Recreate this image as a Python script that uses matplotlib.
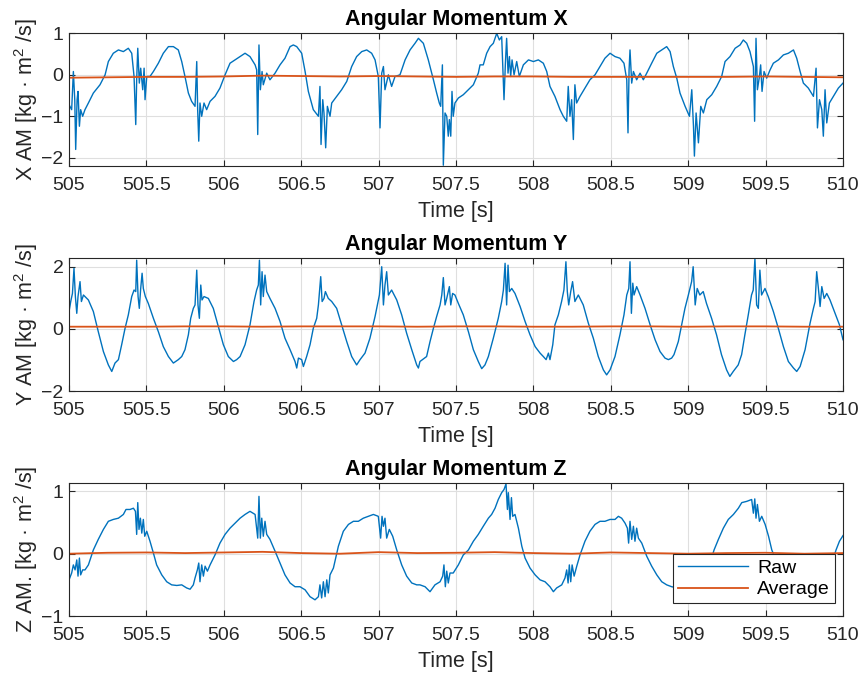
import numpy as np
import matplotlib
matplotlib.use("Agg")
import matplotlib.pyplot as plt

plt.rcParams['font.family'] = ['Liberation Sans', 'DejaVu Sans']
plt.rcParams['mathtext.default'] = 'regular'

# ---- raw angular momentum X ----
x_t = [505.000, 505.017, 505.028, 505.037, 505.043, 505.052, 505.058, 505.067, 505.075, 505.088,
       505.103, 505.125, 505.157, 505.200, 505.233, 505.254, 505.286, 505.319, 505.351, 505.383,
       505.405, 505.420, 505.431, 505.437, 505.444, 505.454, 505.463, 505.476, 505.485, 505.491,
       505.502, 505.523, 505.545, 505.577, 505.609, 505.642, 505.674, 505.706, 505.728, 505.749,
       505.771, 505.792, 505.814, 505.825, 505.831, 505.838, 505.846, 505.857, 505.872, 505.889,
       505.911, 505.943, 505.975, 506.008, 506.040, 506.072, 506.105, 506.137, 506.169, 506.202,
       506.212, 506.219, 506.227, 506.236, 506.247, 506.255, 506.277, 506.298, 506.331, 506.363,
       506.395, 506.428, 506.449, 506.471, 506.503, 506.525, 506.546, 506.578, 506.611, 506.621,
       506.628, 506.639, 506.647, 506.658, 506.669, 506.686, 506.697, 506.729, 506.761, 506.794,
       506.826, 506.858, 506.891, 506.923, 506.955, 506.977, 506.998, 507.009, 507.020, 507.031,
       507.041, 507.063, 507.084, 507.106, 507.138, 507.171, 507.203, 507.235, 507.257, 507.289,
       507.321, 507.354, 507.375, 507.392, 507.401, 507.412, 507.418, 507.429, 507.440, 507.450,
       507.457, 507.466, 507.474, 507.482, 507.493, 507.515, 507.547, 507.580, 507.612, 507.644,
       507.655, 507.676, 507.698, 507.720, 507.741, 507.763, 507.780, 507.795, 507.810, 507.819,
       507.827, 507.836, 507.845, 507.853, 507.862, 507.875, 507.892, 507.909, 507.935, 507.968,
       508.000, 508.032, 508.064, 508.086, 508.107, 508.139, 508.172, 508.193, 508.215, 508.225,
       508.236, 508.247, 508.258, 508.268, 508.279, 508.301, 508.333, 508.365, 508.398, 508.430,
       508.462, 508.495, 508.527, 508.559, 508.585, 508.603, 508.611, 508.618, 508.624, 508.635,
       508.646, 508.667, 508.689, 508.710, 508.732, 508.764, 508.797, 508.829, 508.861, 508.883,
       508.904, 508.926, 508.947, 508.980, 509.008, 509.023, 509.034, 509.040, 509.051, 509.066,
       509.081, 509.098, 509.120, 509.152, 509.184, 509.216, 509.238, 509.270, 509.303, 509.335,
       509.356, 509.378, 509.399, 509.421, 509.429, 509.438, 509.447, 509.460, 509.468, 509.477,
       509.490, 509.507, 509.529, 509.550, 509.583, 509.615, 509.647, 509.680, 509.701, 509.723,
       509.744, 509.776, 509.809, 509.826, 509.835, 509.848, 509.863, 509.873, 509.884, 509.895,
       509.912, 509.938, 509.970, 510.000]
x_raw = [-0.72, -0.84, 0.08, -0.60, -1.80, -0.60, -0.40, -1.24, -0.84, -1.00,
         -0.84, -0.68, -0.44, -0.24, 0.00, 0.32, 0.52, 0.60, 0.56, 0.64,
         0.52, -0.04, -1.20, -0.12, 0.64, -0.20, 0.16, -0.36, 0.16, -0.60,
         -0.04, -0.04, 0.08, 0.28, 0.52, 0.68, 0.68, 0.60, 0.32, -0.04,
         -0.44, -0.64, -0.76, 0.32, -0.84, -1.60, -0.68, -1.00, -0.68, -0.84,
         -0.64, -0.52, -0.32, 0.00, 0.28, 0.36, 0.44, 0.52, 0.44, 0.24,
         0.12, -1.44, 0.72, -0.36, 0.08, -0.24, 0.04, -0.12, 0.04, 0.24,
         0.40, 0.68, 0.72, 0.68, 0.52, 0.08, -0.40, -0.84, -1.00, -0.28,
         -1.68, -0.60, -0.92, -1.76, -0.76, -1.00, -0.68, -0.52, -0.36, -0.16,
         0.20, 0.44, 0.56, 0.60, 0.52, 0.36, -0.04, -1.28, 0.04, 0.20,
         -0.36, 0.00, -0.28, -0.04, 0.00, 0.36, 0.60, 0.76, 0.88, 0.76,
         0.36, -0.12, -0.44, -0.68, -0.76, 0.24, -2.18, -0.92, -1.00, -1.48,
         -1.08, -1.48, -0.40, -1.00, -0.68, -0.56, -0.48, -0.36, -0.24, 0.04,
         0.24, 0.24, 0.52, 0.68, 0.76, 1.00, 0.84, 0.92, -0.60, 0.28,
         0.88, 0.04, 0.44, -0.04, 0.36, 0.00, 0.32, -0.04, 0.24, 0.36,
         0.32, 0.36, 0.28, 0.08, -0.28, -0.52, -0.84, -1.00, -1.12, -0.28,
         -1.00, -0.60, -1.56, -0.24, -0.68, -0.52, -0.32, -0.12, 0.00, 0.20,
         0.40, 0.52, 0.44, 0.40, 0.28, -0.12, -1.40, 0.12, 0.60, -0.20,
         0.08, -0.12, 0.04, -0.12, 0.04, 0.28, 0.52, 0.60, 0.68, 0.56,
         0.20, -0.08, -0.44, -0.76, -1.00, -0.36, -1.24, -1.96, -0.92, -1.64,
         -0.76, -0.92, -0.60, -0.48, -0.28, -0.04, 0.32, 0.44, 0.64, 0.72,
         0.84, 0.76, 0.56, 0.20, -1.12, 0.88, -0.36, -0.04, 0.24, -0.40,
         0.08, -0.08, 0.12, 0.28, 0.36, 0.48, 0.52, 0.60, 0.40, 0.08,
         -0.20, -0.32, -0.52, 0.16, -1.28, -0.60, -0.84, -1.48, -0.36, -1.16,
         -0.68, -0.52, -0.32, -0.20]

# ---- raw angular momentum Y ----
y_t = [505.000, 505.011, 505.022, 505.032, 505.041, 505.050, 505.058, 505.071, 505.080, 505.093,
       505.103, 505.125, 505.157, 505.189, 505.222, 505.254, 505.276, 505.297, 505.319, 505.340,
       505.362, 505.383, 505.405, 505.420, 505.431, 505.437, 505.446, 505.454, 505.463, 505.472,
       505.480, 505.493, 505.512, 505.545, 505.577, 505.609, 505.642, 505.674, 505.706, 505.728,
       505.749, 505.771, 505.786, 505.803, 505.814, 505.825, 505.833, 505.842, 505.851, 505.859,
       505.872, 505.900, 505.932, 505.965, 505.997, 506.029, 506.062, 506.083, 506.105, 506.137,
       506.169, 506.195, 506.212, 506.223, 506.230, 506.238, 506.247, 506.255, 506.266, 506.277,
       506.298, 506.331, 506.363, 506.395, 506.428, 506.460, 506.471, 506.482, 506.503, 506.514,
       506.535, 506.557, 506.578, 506.600, 506.611, 506.626, 506.635, 506.647, 506.656, 506.675,
       506.697, 506.729, 506.761, 506.794, 506.826, 506.858, 506.880, 506.912, 506.944, 506.977,
       507.005, 507.020, 507.031, 507.041, 507.052, 507.063, 507.084, 507.117, 507.149, 507.181,
       507.214, 507.246, 507.257, 507.267, 507.310, 507.332, 507.354, 507.375, 507.397, 507.408,
       507.418, 507.429, 507.440, 507.457, 507.466, 507.478, 507.493, 507.515, 507.547, 507.580,
       507.612, 507.644, 507.666, 507.687, 507.709, 507.741, 507.773, 507.795, 507.806, 507.817,
       507.827, 507.836, 507.845, 507.860, 507.881, 507.914, 507.946, 507.978, 508.011, 508.043,
       508.064, 508.082, 508.097, 508.107, 508.125, 508.139, 508.161, 508.182, 508.197, 508.210,
       508.219, 508.228, 508.241, 508.253, 508.268, 508.290, 508.322, 508.355, 508.387, 508.419,
       508.452, 508.473, 508.495, 508.527, 508.559, 508.585, 508.603, 508.616, 508.624, 508.633,
       508.642, 508.650, 508.667, 508.689, 508.721, 508.754, 508.786, 508.818, 508.850, 508.872,
       508.893, 508.908, 508.936, 508.958, 508.979, 509.001, 509.022, 509.032, 509.045, 509.058,
       509.075, 509.097, 509.118, 509.151, 509.183, 509.215, 509.248, 509.269, 509.291, 509.323,
       509.345, 509.366, 509.388, 509.409, 509.420, 509.431, 509.442, 509.453, 509.463, 509.474,
       509.496, 509.517, 509.550, 509.582, 509.615, 509.647, 509.680, 509.701, 509.723, 509.755,
       509.787, 509.809, 509.820, 509.830, 509.841, 509.852, 509.863, 509.878, 509.895, 509.916,
       509.949, 509.977, 510.000]
y_raw = [0.56, 0.88, 1.14, 1.95, 1.04, 0.50, 1.04, 1.52, 0.88, 1.09,
         1.04, 0.93, 0.56, -0.09, -0.73, -1.16, -1.37, -1.10, -0.99, -0.51,
         0.02, 0.45, 1.04, 1.25, 1.20, 2.21, 1.04, 0.66, 1.30, 1.79,
         1.30, 1.04, 0.82, 0.34, -0.09, -0.57, -0.89, -1.10, -0.99, -0.89,
         -0.67, -0.19, 0.34, 0.66, 0.77, 1.89, 0.77, 0.34, 1.41, 0.93,
         1.04, 0.98, 0.66, 0.07, -0.51, -0.89, -1.05, -0.99, -0.89, -0.51,
         0.13, 0.88, 1.25, 1.41, 2.21, 0.77, 1.84, 1.04, 1.73, 1.20,
         0.98, 0.66, 0.24, -0.30, -0.67, -1.05, -1.26, -0.94, -0.99, -1.21,
         -0.89, -0.51, 0.02, 0.34, 0.77, 1.68, 0.88, 0.98, 1.20, 0.98,
         0.88, 0.66, 0.13, -0.41, -0.89, -1.16, -0.99, -0.78, -0.30, 0.40,
         1.09, 2.00, 0.77, 1.41, 1.84, 1.09, 1.25, 0.93, 0.45, -0.14,
         -0.67, -1.16, -1.26, -1.05, -0.89, -0.41, 0.02, 0.40, 0.77, 1.09,
         1.65, 0.77, 0.98, 1.36, 0.77, 1.14, 1.09, 0.82, 0.45, -0.09,
         -0.67, -1.05, -1.28, -1.16, -0.89, -0.30, 0.34, 0.88, 1.25, 2.11,
         0.77, 2.05, 1.20, 1.30, 1.14, 0.72, 0.24, -0.19, -0.57, -0.78,
         -0.89, -0.99, -0.78, -0.99, -0.51, 0.13, 0.45, 0.88, 1.25, 2.16,
         1.20, 0.77, 1.20, 1.52, 0.88, 1.09, 0.77, 0.18, -0.30, -0.89,
         -1.32, -1.48, -1.32, -0.89, -0.19, 0.45, 1.09, 1.30, 2.16, 0.50,
         1.47, 1.09, 1.36, 1.09, 0.66, 0.13, -0.35, -0.73, -0.94, -0.99,
         -0.94, -0.83, -0.41, 0.13, 0.66, 1.09, 1.52, 2.00, 0.77, 1.30,
         1.09, 1.20, 0.82, 0.34, -0.19, -0.83, -1.32, -1.53, -1.37, -1.16,
         -0.83, -0.19, 0.45, 1.09, 1.25, 2.27, 0.77, 0.66, 1.89, 1.09,
         1.30, 1.04, 0.56, 0.02, -0.57, -1.05, -1.26, -1.37, -1.21, -0.67,
         0.18, 0.66, 0.88, 1.84, 1.30, 0.72, 1.36, 0.98, 1.14, 0.93,
         0.50, 0.13, -0.35]

# ---- raw angular momentum Z ----
z_t = [505.000, 505.017, 505.028, 505.039, 505.050, 505.058, 505.067, 505.075, 505.088, 505.103,
       505.125, 505.157, 505.189, 505.222, 505.254, 505.286, 505.319, 505.351, 505.368, 505.394,
       505.416, 505.429, 505.437, 505.444, 505.452, 505.461, 505.470, 505.480, 505.489, 505.502,
       505.523, 505.545, 505.566, 505.599, 505.631, 505.663, 505.696, 505.728, 505.760, 505.782,
       505.803, 505.814, 505.829, 505.838, 505.846, 505.857, 505.868, 505.879, 505.894, 505.911,
       505.943, 505.975, 506.008, 506.040, 506.072, 506.105, 506.137, 506.169, 506.202, 506.219,
       506.227, 506.236, 506.245, 506.255, 506.266, 506.277, 506.298, 506.331, 506.363, 506.395,
       506.428, 506.460, 506.492, 506.525, 506.557, 506.589, 506.611, 506.621, 506.632, 506.643,
       506.654, 506.665, 506.675, 506.686, 506.708, 506.740, 506.772, 506.805, 506.837, 506.869,
       506.901, 506.934, 506.966, 506.998, 507.013, 507.022, 507.031, 507.041, 507.052, 507.069,
       507.091, 507.117, 507.149, 507.181, 507.214, 507.246, 507.267, 507.300, 507.332, 507.364,
       507.397, 507.414, 507.422, 507.431, 507.440, 507.450, 507.461, 507.482, 507.515, 507.547,
       507.580, 507.612, 507.644, 507.676, 507.709, 507.730, 507.752, 507.773, 507.795, 507.810,
       507.823, 507.832, 507.838, 507.849, 507.858, 507.866, 507.881, 507.903, 507.925, 507.946,
       507.978, 508.011, 508.043, 508.075, 508.107, 508.129, 508.150, 508.183, 508.204, 508.215,
       508.224, 508.232, 508.241, 508.250, 508.263, 508.280, 508.301, 508.333, 508.365, 508.398,
       508.430, 508.462, 508.495, 508.527, 508.549, 508.570, 508.592, 508.607, 508.615, 508.624,
       508.635, 508.646, 508.656, 508.667, 508.678, 508.700, 508.732, 508.764, 508.797, 508.829,
       508.861, 508.893, 508.990, 509.076, 509.141, 509.167, 509.195, 509.227, 509.259, 509.292,
       509.324, 509.346, 509.378, 509.410, 509.421, 509.430, 509.438, 509.447, 509.460, 509.475,
       509.497, 509.519, 509.540, 509.594, 509.680, 509.788, 509.895, 509.955, 509.977, 510.000]
z_raw = [-0.42, -0.31, -0.18, -0.26, -0.10, -0.36, -0.07, -0.34, -0.26, -0.26,
         -0.18, 0.06, 0.23, 0.39, 0.52, 0.55, 0.57, 0.63, 0.71, 0.71,
         0.73, 0.68, 0.31, 0.82, 0.39, 0.57, 0.33, 0.55, 0.28, 0.36,
         0.20, 0.01, -0.18, -0.34, -0.45, -0.50, -0.51, -0.50, -0.55, -0.57,
         -0.50, -0.39, -0.26, -0.15, -0.45, -0.18, -0.36, -0.20, -0.28, -0.18,
         -0.02, 0.17, 0.31, 0.41, 0.49, 0.57, 0.63, 0.68, 0.63, 0.25,
         0.92, 0.25, 0.57, 0.28, 0.52, 0.31, 0.23, 0.04, -0.15, -0.34,
         -0.47, -0.53, -0.53, -0.58, -0.69, -0.74, -0.69, -0.50, -0.71, -0.45,
         -0.69, -0.42, -0.63, -0.34, -0.23, 0.12, 0.36, 0.47, 0.52, 0.52,
         0.57, 0.60, 0.63, 0.60, 0.25, 0.60, 0.44, 0.57, 0.25, 0.39,
         0.28, 0.06, -0.18, -0.36, -0.47, -0.50, -0.50, -0.53, -0.61, -0.50,
         -0.45, -0.36, -0.18, -0.53, -0.28, -0.47, -0.31, -0.31, -0.18, -0.02,
         0.06, 0.20, 0.31, 0.44, 0.57, 0.63, 0.73, 0.87, 0.98, 1.03,
         1.12, 0.71, 0.98, 0.55, 0.90, 0.60, 0.63, 0.41, 0.12, -0.07,
         -0.23, -0.34, -0.42, -0.45, -0.53, -0.61, -0.55, -0.50, -0.39, -0.26,
         -0.47, -0.18, -0.45, -0.18, -0.36, -0.20, -0.02, 0.20, 0.36, 0.47,
         0.52, 0.52, 0.55, 0.55, 0.60, 0.57, 0.49, 0.41, 0.17, 0.52,
         0.23, 0.44, 0.20, 0.41, 0.25, 0.17, -0.04, -0.20, -0.34, -0.45,
         -0.50, -0.53, -0.58, -0.42, -0.15, 0.06, 0.23, 0.41, 0.55, 0.63,
         0.73, 0.82, 0.84, 0.87, 0.65, 0.88, 0.57, 0.79, 0.52, 0.60,
         0.47, 0.28, 0.06, -0.26, -0.58, -0.69, -0.42, 0.06, 0.20, 0.29]

# ---- running averages (nearly flat) ----
avg_t = [505.0, 505.25, 505.5, 505.75, 506.0, 506.25, 506.5, 506.75, 507.0, 507.25,
         507.5, 507.75, 508.0, 508.25, 508.5, 508.75, 509.0, 509.25, 509.5, 509.75, 510.0]
x_avg = [-0.07, -0.06, -0.05, -0.05, -0.04, -0.02, -0.03, -0.04, -0.03, -0.04,
         -0.05, -0.04, -0.04, -0.05, -0.05, -0.05, -0.05, -0.05, -0.04, -0.05, -0.06]
y_avg = [0.07, 0.07, 0.07, 0.08, 0.08, 0.07, 0.08, 0.08, 0.08, 0.07,
         0.08, 0.08, 0.07, 0.07, 0.08, 0.08, 0.07, 0.08, 0.08, 0.07, 0.07]
z_avg = [0.00, 0.015, 0.02, 0.01, 0.02, 0.03, 0.01, 0.0, 0.025, 0.01,
         0.015, 0.025, 0.01, 0.0, 0.02, 0.01, 0.0, 0.01, 0.015, 0.0, 0.01]

panels = [
    ("Angular Momentum X", "X AM [kg · m$^2$ /s]", x_t, x_raw, x_avg, (-2.2, 1.0), [-2, -1, 0, 1]),
    ("Angular Momentum Y", "Y AM [kg · m$^2$ /s]", y_t, y_raw, y_avg, (-2.0, 2.27), [-2, 0, 2]),
    ("Angular Momentum Z", "Z AM. [kg · m$^2$ /s]", z_t, z_raw, z_avg, (-1.0, 1.13), [-1, 0, 1]),
]

blue = '#0072BD'
orange = '#D95319'
dark = '#262626'

fig = plt.figure(figsize=(8.64, 6.75), dpi=100)
bottoms = [0.754, 0.4207, 0.0874]

for i, (title, ylab, t, raw, avg, ylim, yt) in enumerate(panels):
    ax = fig.add_axes([0.0799, bottoms[i], 0.8958, 0.1966])
    ax.plot(t, raw, color=blue, lw=1.0, label='Raw')
    ax.plot(avg_t, avg, color=orange, lw=1.3, label='Average')
    ax.set_xlim(505, 510)
    ax.set_ylim(*ylim)
    ax.set_yticks(yt)
    ax.set_xticks([505, 505.5, 506, 506.5, 507, 507.5, 508, 508.5, 509, 509.5, 510])
    ax.set_xticklabels(['505', '505.5', '506', '506.5', '507', '507.5', '508',
                        '508.5', '509', '509.5', '510'])
    ax.grid(True, color='#dfdfdf', lw=0.8)
    ax.set_axisbelow(True)
    ax.tick_params(direction='in', top=True, right=True, length=4, width=0.8,
                   labelsize=14, colors=dark)
    ax.tick_params(axis='x', pad=8)
    ax.tick_params(axis='y', pad=4)
    for s in ax.spines.values():
        s.set_color(dark)
        s.set_linewidth(0.8)
    ax.set_title(title, fontsize=15.5, fontweight='bold', pad=6)
    ax.set_xlabel('Time [s]', fontsize=15.5, color=dark, labelpad=5)
    ax.set_ylabel(ylab, fontsize=15.5, color=dark, labelpad=1)
    if i == 2:
        leg = ax.legend(loc='lower right', bbox_to_anchor=(0.9897, 0.0957),
                        borderaxespad=0, fontsize=14, fancybox=False, framealpha=1,
                        edgecolor=dark, handlelength=3.6, borderpad=0.25,
                        labelspacing=0.2, handletextpad=0.5)
        leg.get_frame().set_linewidth(0.8)

fig.savefig('out.png', dpi=100)
